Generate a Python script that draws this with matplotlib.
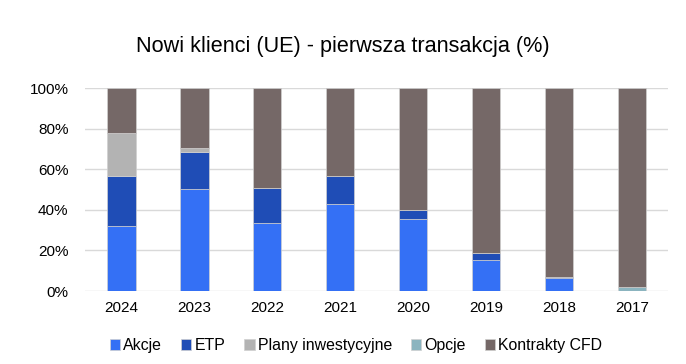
import matplotlib.pyplot as plt
import numpy as np

plt.rcParams['font.family'] = ['Liberation Sans', 'DejaVu Sans']

years = ['2024', '2023', '2022', '2021', '2020', '2019', '2018', '2017']
akcje = [32.1, 50.3, 33.4, 42.9, 35.5, 15.5, 6.3, 0.0]
etp = [24.8, 18.4, 17.6, 14.0, 4.5, 3.4, 0.5, 0.0]
plany = [21.1, 1.8, 0.0, 0.0, 0.0, 0.0, 0.0, 0.0]
opcje = [0.0, 0.0, 0.0, 0.0, 0.0, 0.0, 0.3, 2.0]
cfd = [22.0, 29.5, 49.0, 43.1, 60.0, 81.1, 92.9, 98.0]

series = [('Akcje', akcje, '#3470F5'),
          ('ETP', etp, '#1F4DB6'),
          ('Plany inwestycyjne', plany, '#B3B3B3'),
          ('Opcje', opcje, '#8BB4BF'),
          ('Kontrakty CFD', cfd, '#756867')]

fig = plt.figure(figsize=(6.86, 3.64), dpi=100)
ax = fig.add_axes([0.124, 0.2005, 0.85, 0.5575])

x = np.arange(len(years))
bottom = np.zeros(len(years))
handles = []
for name, vals, col in series:
    vals = np.array(vals)
    b = ax.bar(x, vals, 0.39, bottom=bottom, color=col, edgecolor='#d0d0d0',
               linewidth=0.5, label=name, zorder=3)
    handles.append(b)
    bottom += vals

ax.set_xlim(-0.5, len(years) - 0.5)
ax.set_ylim(0, 100)
ax.set_yticks([0, 20, 40, 60, 80, 100])
ax.set_yticklabels(['0%', '20%', '40%', '60%', '80%', '100%'])
ax.set_xticks(x)
ax.set_xticklabels(years)
ax.tick_params(length=0, labelsize=11, pad=7)
ax.tick_params(axis='y', pad=12)
for s in ax.spines.values():
    s.set_visible(False)
ax.grid(axis='y', color='#d9d9d9', linewidth=1, zorder=0)

fig.suptitle('Nowi klienci (UE) - pierwsza transakcja (%)', fontsize=15.6, y=0.9)

fig.legend(handles=handles, loc='center', bbox_to_anchor=(0.519, 0.05), ncol=5,
           frameon=False, fontsize=11.4, handlelength=0.65, handleheight=0.65,
           handletextpad=0.2, columnspacing=1.2)

plt.savefig('out.png', dpi=100)
plt.close()
